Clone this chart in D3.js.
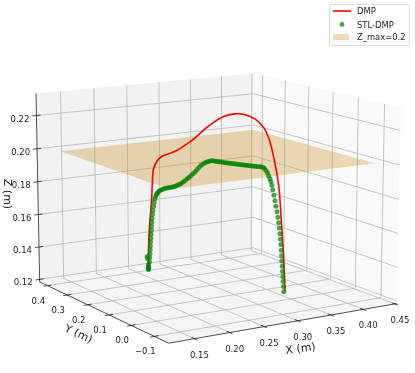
<!DOCTYPE html>
<html><head><meta charset="utf-8"><script src="https://cdn.jsdelivr.net/npm/d3@7"></script>
<style>html,body{margin:0;padding:0;background:#fff}svg{display:block;filter:blur(.35px)}</style></head><body>
<svg id="c" width="415" height="373"></svg>
<script>
const xTicks=[0.15,0.20,0.25,0.30,0.35,0.40,0.45];
const yTicks=[-0.1,0.0,0.1,0.2,0.3,0.4];
const zTicks=[0.12,0.14,0.16,0.18,0.20,0.22];
const xLim=[0.114,0.453], yLim=[-0.16,0.44], zLim=[0.1184,0.2331];
const planeX=[0.145,0.45], planeY=[-0.075,0.43], planeZ=0.1975;
const dmpX=[.208,.208,.209,.2105,.211,.212,.2138,.2172,.2228,.2284,.2341,.2381,.2464,.2531,.2599,.2666,.2734,.2802,.2857,.2891,.2914,.2936,.2955,.297,.2985,.3];
const dmpY=[.2121,.2121,.2102,.2044,.2018,.199,.189,.1807,.1608,.1413,.1213,.1073,.0782,.0545,.0309,.0072,-.0168,-.0404,-.0599,-.0717,-.0798,-.0878,-.0941,-.0995,-.105,-.1088];
const dmpZ=[.1351,.1451,.1586,.1747,.1848,.1936,.1985,.2012,.2038,.2063,.2101,.2128,.2199,.2251,.2289,.2309,.231,.229,.2244,.2181,.2106,.2014,.1911,.1738,.1548,.1325];
const stlX=[.208,.208,.208,.208,.208,.207,.2072,.2087,.2089,.2091,.2093,.2094,.2095,.2098,.21,.2102,.2103,.2105,.2107,.211,.2114,.2118,.2122,.2127,.2133,.2139,.2145,.2154,.2164,.2174,.2188,.2201,.2215,.2228,.2242,.2255,.2269,.2282,.2296,.2309,.2323,.2336,.235,.2363,.2377,.239,.2404,.2417,.243,.2444,.2457,.2471,.2484,.2498,.2511,.2525,.2538,.2552,.2565,.2579,.2592,.2606,.2619,.2633,.2646,.266,.2673,.2687,.27,.2714,.2727,.2741,.2754,.2767,.2781,.2794,.2808,.2821,.2835,.2848,.2858,.2869,.2879,.2887,.2896,.2902,.2908,.2914,.2922,.2929,.2936,.2943,.2948,.2954,.2958,.2962,.2966,.2969,.2972,.2974,.2976,.2979,.2981,.2983,.2985,.2988,.299];
const stlY=[.213,.213,.213,.213,.213,.2158,.2149,.2107,.21,.2092,.2085,.208,.2076,.2069,.2061,.2055,.205,.2043,.2035,.2026,.2012,.1998,.1981,.1964,.1946,.1924,.1901,.187,.1835,.1798,.1752,.1704,.1657,.1609,.1562,.1515,.1468,.142,.1373,.1325,.1279,.1231,.1184,.1136,.1088,.1042,.0994,.0947,.0899,.0852,.0805,.0758,.071,.0663,.0615,.0568,.0521,.0473,.0426,.0378,.0332,.0284,.0237,.0189,.0142,.0095,.0048,0,-.0047,-.0095,-.0142,-.0189,-.0237,-.0284,-.0332,-.0378,-.0426,-.0473,-.0521,-.0568,-.0604,-.0639,-.0675,-.0705,-.0733,-.0757,-.0779,-.08,-.0828,-.0852,-.0876,-.0899,-.0919,-.0939,-.0954,-.0968,-.098,-.0991,-.1001,-.1011,-.1017,-.1027,-.1034,-.1042,-.1048,-.1057,-.1065];
const stlZ=[.133,.1333,.1339,.1348,.136,.1407,.1395,.1378,.1402,.1426,.145,.1474,.1497,.1521,.1545,.1569,.1593,.1617,.164,.1664,.1688,.1713,.1737,.1758,.1774,.1786,.1796,.1806,.1813,.1819,.1825,.183,.1834,.1838,.1841,.1845,.185,.1857,.1863,.187,.188,.1891,.1902,.1913,.1924,.1937,.195,.1964,.1978,.1991,.2,.2009,.2016,.2021,.2025,.2026,.2025,.2024,.2024,.2024,.2023,.2023,.2023,.2023,.2023,.2023,.2023,.2022,.2022,.2022,.2022,.2022,.2022,.2022,.2023,.2023,.2023,.2023,.2023,.2022,.2017,.2007,.1994,.1978,.1962,.1946,.1926,.1901,.187,.184,.1809,.1778,.1747,.1716,.1686,.1654,.1623,.1592,.156,.1529,.1498,.1468,.1438,.141,.1381,.1351,.1322];
const az=-121.8*Math.PI/180, el=12.2*Math.PI/180, D=7.5, S=262, cx=214.5, cy=197.5, bz=.75;
const sx=d3.scaleLinear().domain(xLim).range([-.5,.5]);
const sy=d3.scaleLinear().domain(yLim).range([-.5,.5]);
const sz=d3.scaleLinear().domain(zLim).range([-bz/2,bz/2]);
function P(x,y,z){const a=sx(x),b=sy(y),c=sz(z);
 const u=-Math.sin(az)*a+Math.cos(az)*b;
 const v=-Math.sin(el)*Math.cos(az)*a-Math.sin(el)*Math.sin(az)*b+Math.cos(el)*c;
 const d=Math.cos(el)*Math.cos(az)*a+Math.cos(el)*Math.sin(az)*b+Math.sin(el)*c;
 const s=D/(D-d);return [cx+S*s*u,cy-S*s*v];}
const svg=d3.select('#c');
const line=d3.line();
const poly=(pts,fill)=>svg.append('path').attr('d',line(pts)+'Z').attr('fill',fill).attr('stroke','none');
const [x0,x1]=xLim,[y0,y1]=yLim,[z0,z1]=zLim;
poly([P(x0,y1,z0),P(x1,y1,z0),P(x1,y1,z1),P(x0,y1,z1)],'#f2f2f2');
poly([P(x1,y0,z0),P(x1,y1,z0),P(x1,y1,z1),P(x1,y0,z1)],'#f9f9f9');
poly([P(x0,y0,z0),P(x1,y0,z0),P(x1,y1,z0),P(x0,y1,z0)],'#f5f5f5');
const g=svg.append('g').attr('fill','none').attr('stroke','#b8b8b8').attr('stroke-width',.8);
xTicks.forEach(t=>g.append('path').attr('d',line([P(t,y0,z0),P(t,y1,z0),P(t,y1,z1)])));
yTicks.forEach(t=>g.append('path').attr('d',line([P(x0,t,z0),P(x1,t,z0),P(x1,t,z1)])));
zTicks.forEach(t=>g.append('path').attr('d',line([P(x0,y1,t),P(x1,y1,t),P(x1,y0,t)])));
const ax=svg.append('g').attr('fill','none').attr('stroke','#222').attr('stroke-width',.8);
ax.append('path').attr('d',line([P(x0,y1,z1),P(x0,y1,z0),P(x0,y0,z0),P(x1,y0,z0)]));
const txt=(x,y,s,size,rot,anchor)=>svg.append('text').attr('transform',`translate(${x},${y}) rotate(${rot||0})`).attr('text-anchor',anchor||'middle').attr('font-family','DejaVu Sans').attr('font-size',size).attr('fill','#222').text(s);
xTicks.forEach(t=>{const a=P(t,y0,z0),b=P(t,y0-.012,z0),c=P(t,y0+.012,z0);ax.append('path').attr('d',line([b,c]));txt(a[0]+5,a[1]+19,t.toFixed(2),8.5);});
yTicks.forEach(t=>{const b=P(x0-.006,t,z0),c=P(x0+.006,t,z0),a=P(x0,t,z0);ax.append('path').attr('d',line([b,c]));txt(a[0]-9,a[1]+18,t.toFixed(1).replace('-','\u2212'),8.5);});
zTicks.forEach(t=>{const b=P(x0-.006,y1,t),c=P(x0+.006,y1,t),a=P(x0,y1,t);ax.append('path').attr('d',line([b,c]));txt(a[0]-7,a[1]+6,t.toFixed(2),8.5,0,'end');});
txt(301,352,'X (m)',11,-8);
txt(77,337,'Y (m)',11,25);
txt(4,194,'Z (m)',11,90);
poly([P(planeX[0],planeY[0],planeZ),P(planeX[1],planeY[0],planeZ),P(planeX[1],planeY[1],planeZ),P(planeX[0],planeY[1],planeZ)],'rgba(200,145,40,.33)');
svg.append('path').attr('d',d3.line().curve(d3.curveCatmullRom)(dmpX.map((v,i)=>P(v,dmpY[i],dmpZ[i])))).attr('fill','none').attr('stroke','#f00').attr('stroke-width',1.6);
svg.append('g').selectAll('circle').data(stlX).join('circle').attr('cx',(v,i)=>P(v,stlY[i],stlZ[i])[0]).attr('cy',(v,i)=>P(v,stlY[i],stlZ[i])[1]).attr('r',2.5).attr('fill','green').attr('opacity',.7);
const lg=svg.append('g');
lg.append('rect').attr('x',329.5).attr('y',4.5).attr('width',80).attr('height',41).attr('rx',2).attr('fill','#fff').attr('stroke','#ddd');
lg.append('line').attr('x1',333).attr('x2',351).attr('y1',11).attr('y2',11).attr('stroke','#f00').attr('stroke-width',1.6);
lg.append('circle').attr('cx',342).attr('cy',24.5).attr('r',2.4).attr('fill','green').attr('opacity',.7);
lg.append('rect').attr('x',333).attr('y',34).attr('width',16).attr('height',6).attr('fill','rgba(200,145,40,.33)');
[['DMP',14],['STL-DMP',27.5],['Z_max=0.2',40]].forEach(d=>txt(357,d[1],d[0],8.4,0,'start'));
</script></body></html>
